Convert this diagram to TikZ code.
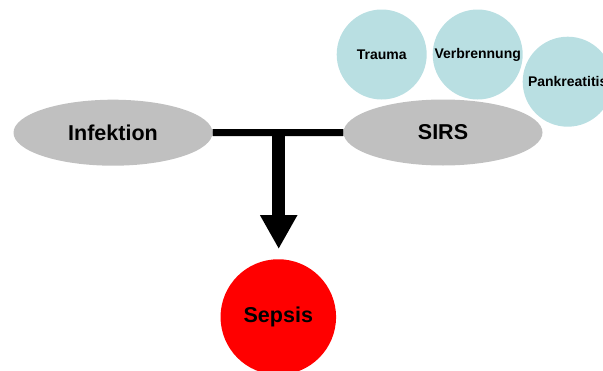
\documentclass[tikz,border=0pt]{standalone}
\usepackage{fontspec}
\setmainfont{Liberation Sans}
\usetikzlibrary{shapes.geometric,arrows.meta}
\definecolor{greyfill}{HTML}{C0C0C0}
\definecolor{bluefill}{HTML}{B9DFE2}
\begin{document}
\begin{tikzpicture}[x=1pt,y=-1pt,
  oval/.style={ellipse,fill=greyfill,draw=none,minimum width=199pt,minimum height=66pt,inner sep=0pt,font=\fontsize{21.5}{24}\selectfont\bfseries},
  cause/.style={circle,fill=bluefill,draw=none,minimum size=90pt,inner sep=0pt,font=\fontsize{14}{16}\selectfont\bfseries},
  result/.style={circle,fill=red,draw=none,minimum size=115.5pt,inner sep=0pt,font=\fontsize{21.5}{24}\selectfont\bfseries}]
\useasboundingbox (0,0) rectangle (603,370);
\node[cause] (trauma) at (381.7,54.5) {Trauma};
\node[cause] (verb) at (477.7,54.5) {Verbrennung};
\node[cause] (pank) at (567.7,81.7) {Pankreatitis};
\node[oval] (inf) at (113,132.7) {Infektion};
\node[oval] (sirs) at (443,132.5) {SIRS};
\node[result] (sepsis) at (278.3,317) {Sepsis};
\draw[line width=7pt] (inf.east) -- (sirs.west);
\coordinate (j) at (278.7,132.7);
\coordinate (tip) at (278.7,249);
\draw[line width=12.5pt,-{Triangle[width=35pt,length=34pt]}] (j) -- (tip);
\end{tikzpicture}
\end{document}
